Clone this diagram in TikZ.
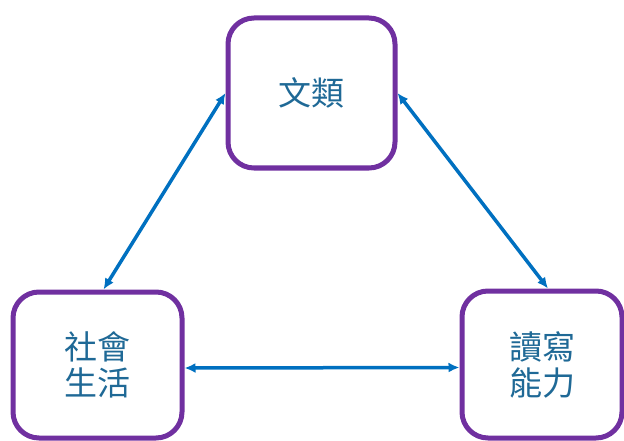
\documentclass[tikz,border=0pt]{standalone}
\usepackage{fontspec}
\setmainfont{Noto Sans CJK TC}
\usetikzlibrary{arrows.meta}
\definecolor{boxpurple}{RGB}{112,48,160}
\definecolor{linkblue}{RGB}{0,112,192}
\definecolor{textblue}{RGB}{31,105,150}
\begin{document}
\begin{tikzpicture}[x=1pt, y=1pt,
    topic/.style={draw=boxpurple, line width=5pt, rounded corners=26pt,
      fill=white, text=textblue, font=\fontsize{33}{36}\selectfont,
      align=center, inner sep=0pt},
    link/.style={draw=linkblue, line width=3.5pt,
      {Latex[length=11pt,width=10pt]}-{Latex[length=11pt,width=10pt]}}]
  \useasboundingbox (0,0) rectangle (624,440);
  % Three topics
  \node[topic, minimum width=167pt, minimum height=150pt] (genre) at (311.5,347) {文類};
  \node[topic, minimum width=169pt, minimum height=146pt] (social) at (97.5,75) {社會\\生活};
  \node[topic, minimum width=160pt, minimum height=147pt] (literacy) at (542,75.5) {讀寫\\能力};

  % Two-way links between the topics
  \draw[link] (genre.west) -- ([xshift=6pt]social.north);
  \draw[link] (genre.east) -- ([xshift=6pt]literacy.north);
  \draw[link] ([yshift=-3pt]social.east) -- ([yshift=-3pt]literacy.west);
\end{tikzpicture}
\end{document}
